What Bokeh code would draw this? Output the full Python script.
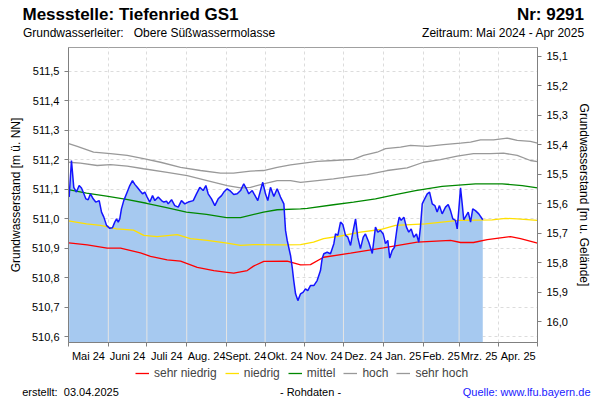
from datetime import date
import numpy as np
from bokeh.plotting import figure
from bokeh.layouts import column
from bokeh.models import (Range1d, LinearAxis, FixedTicker, CustomJSTickFormatter,
                          Label, Legend, LegendItem, AllLabels)
from bokeh.embed import file_html
from bokeh.resources import INLINE

FONT = "Liberation Sans"
START = date(2024, 5, 1)
GOK = 526.65          # Gelaendeoberkante [m ü. NN]
Y_MIN, Y_MAX = 510.58, 511.58
NB = "\u00a0"

month_labels = ["Mai 24", "Juni 24", "Juli 24", "Aug. 24", "Sept. 24", "Okt. 24",
                "Nov. 24", "Dez. 24", "Jan. 25", "Feb. 25", "Mrz. 25", "Apr. 25"]
left_ticks = [510.6, 510.7, 510.8, 510.9, 511.0, 511.1, 511.2, 511.3, 511.4, 511.5]
right_ticks = [15.1, 15.2, 15.3, 15.4, 15.5, 15.6, 15.7, 15.8, 15.9, 16.0]

# (Tag seit 01.05.2024, Wasserstand m ü. NN)
measured = [
    (0.5, 511.073), (2.3, 511.197), (4.1, 511.106), (6.2, 511.090), (8.3, 511.112),
    (10.1, 511.104), (11.4, 511.090), (13.5, 511.067), (15.3, 511.064), (17.1, 511.084),
    (19.2, 511.067), (21.2, 511.056), (23.9, 511.061), (25.7, 511.022), (27.5, 511.005),
    (29.6, 510.977), (32.1, 510.967), (34.2, 510.969), (36.0, 510.988), (37.4, 510.999),
    (38.7, 510.988), (39.9, 510.999), (41.2, 511.033), (43.0, 511.061), (45.7, 511.090),
    (47.7, 511.112), (49.8, 511.129), (51.6, 511.116), (53.5, 511.106), (55.5, 511.095),
    (57.6, 511.084), (59.4, 511.090), (61.2, 511.073), (63.3, 511.056), (65.4, 511.078),
    (67.2, 511.061), (69.8, 511.073), (72.4, 511.061), (74.2, 511.056), (76.3, 511.059),
    (77.6, 511.050), (80.2, 511.064), (82.7, 511.044), (85.4, 511.039), (87.9, 511.061),
    (90.5, 511.050), (93.2, 511.056), (97.1, 511.061), (99.6, 511.084), (102.2, 511.106),
    (104.8, 511.095), (106.9, 511.112), (108.7, 511.084), (111.3, 511.067), (113.9, 511.044),
    (116.5, 511.067), (119.1, 511.078), (120.9, 511.090), (123.5, 511.101), (126.1, 511.093),
    (128.6, 511.082), (131.3, 511.084), (133.9, 511.095), (136.4, 511.118), (138.5, 511.101),
    (140.3, 511.084), (143.0, 511.095), (145.5, 511.075), (147.3, 511.061), (149.4, 511.095),
    (151.2, 511.123), (153.3, 511.084), (155.1, 511.061), (157.2, 511.106), (159.8, 511.075),
    (162.4, 511.101), (165.0, 511.073), (167.6, 511.050), (168.9, 510.960), (170.2, 510.926),
    (172.8, 510.875), (174.1, 510.835), (175.3, 510.790), (176.7, 510.745), (178.5, 510.722),
    (180.6, 510.745), (182.7, 510.751), (184.4, 510.762), (186.2, 510.756), (188.3, 510.773),
    (190.9, 510.773), (193.5, 510.790), (196.1, 510.824), (197.4, 510.864), (198.7, 510.881),
    (201.3, 510.886), (203.9, 510.881), (206.5, 510.915), (207.8, 510.948), (209.6, 510.943),
    (211.7, 510.988), (213.5, 510.980), (215.6, 510.943), (217.4, 510.937), (219.5, 510.909),
    (221.6, 510.960), (223.4, 510.999), (225.1, 510.937), (227.2, 510.898), (229.4, 510.937),
    (231.1, 510.948), (233.7, 510.920), (236.4, 510.882), (238.9, 510.971), (240.7, 510.954),
    (242.8, 510.960), (244.9, 510.948), (246.7, 510.915), (248.5, 510.926), (250.0, 510.866),
    (251.9, 510.892), (253.7, 510.903), (255.8, 510.971), (257.4, 511.005), (258.9, 510.994),
    (261.0, 511.005), (263.0, 510.971), (264.8, 510.954), (266.7, 510.965), (268.7, 510.937),
    (270.8, 510.948), (272.6, 510.920), (273.9, 510.971), (275.3, 511.050), (276.5, 511.061),
    (279.2, 511.084), (281.0, 511.090), (283.1, 511.050), (285.1, 511.044), (286.9, 511.022),
    (288.7, 511.044), (290.8, 511.016), (293.4, 511.039), (295.5, 511.048), (297.3, 511.027),
    (299.1, 510.999), (301.2, 510.994), (302.5, 510.965), (303.7, 511.027), (305.1, 511.104),
    (306.4, 511.050), (307.6, 510.996), (309.5, 511.010), (311.1, 511.022), (312.9, 510.988),
    (314.6, 511.033), (316.7, 511.027), (319.3, 511.016), (322.4, 510.996),
]

sehr_hoch = [
    (0.2, 511.254), (6.8, 511.245), (19.5, 511.225), (32.7, 511.220), (45.7, 511.214),
    (58.4, 511.203), (71.6, 511.191), (87.2, 511.174), (102.7, 511.163), (118.3, 511.154),
    (128.4, 511.154), (141.6, 511.161), (151.8, 511.163), (162.4, 511.174), (172.8, 511.182),
    (193.6, 511.194), (206.2, 511.197), (221.8, 511.201), (229.6, 511.214), (240.2, 511.225),
    (246.7, 511.237), (258.4, 511.242), (266.2, 511.248), (279.2, 511.245), (291.8, 511.251),
    (305.1, 511.256), (312.9, 511.259), (320.6, 511.267), (330.8, 511.267), (341.4, 511.273),
    (349.2, 511.265), (359.5, 511.262), (365.0, 511.256),
]
hoch = [
    (0.2, 511.191), (9.3, 511.188), (22.3, 511.180), (32.7, 511.183), (45.7, 511.178),
    (58.4, 511.169), (76.8, 511.157), (92.4, 511.146), (107.9, 511.129), (123.5, 511.112),
    (133.9, 511.104), (141.6, 511.106), (151.8, 511.118), (162.4, 511.129), (172.8, 511.129),
    (180.6, 511.123), (193.6, 511.129), (206.2, 511.135), (221.8, 511.144), (232.5, 511.149),
    (248.0, 511.163), (263.6, 511.172), (276.3, 511.191), (289.5, 511.200), (302.5, 511.212),
    (315.2, 511.220), (328.4, 511.220), (338.5, 511.222), (349.2, 511.214), (359.5, 511.197),
    (365.0, 511.193),
]
mittel = [
    (0.0, 511.098), (14.0, 511.086), (29.6, 511.076), (45.1, 511.065), (60.7, 511.052),
    (76.3, 511.037), (91.8, 511.022), (107.4, 511.014), (123.0, 511.003), (133.9, 511.003),
    (151.8, 511.022), (162.4, 511.030), (180.6, 511.033), (185.8, 511.035), (206.2, 511.047),
    (221.8, 511.056), (238.9, 511.067), (254.5, 511.081), (270.1, 511.095), (290.8, 511.109),
    (316.7, 511.118), (337.5, 511.118), (353.1, 511.112), (365.0, 511.104),
]
niedrig = [
    (0.0, 510.992), (14.0, 510.982), (24.9, 510.977), (37.4, 510.965), (50.6, 510.961),
    (58.6, 510.943), (69.0, 510.939), (84.6, 510.946), (94.9, 510.932), (107.9, 510.926),
    (123.5, 510.917), (133.9, 510.909), (144.0, 510.912), (167.3, 510.911), (180.6, 510.912),
    (190.7, 510.920), (198.5, 510.932), (211.7, 510.941), (227.2, 510.954), (242.8, 510.963),
    (254.5, 510.977), (277.8, 510.982), (303.5, 510.994), (329.7, 510.996), (340.1, 511.001),
    (349.2, 510.999), (365.0, 510.994),
]
sehr_niedrig = [
    (0.2, 510.918), (14.6, 510.911), (30.1, 510.900), (40.5, 510.900), (56.0, 510.884),
    (63.8, 510.872), (76.8, 510.860), (87.2, 510.856), (100.2, 510.835), (113.1, 510.824),
    (123.5, 510.818), (128.6, 510.815), (139.1, 510.824), (144.0, 510.839), (152.0, 510.855),
    (170.2, 510.856), (180.6, 510.843), (188.3, 510.844), (198.5, 510.869), (219.5, 510.883),
    (245.1, 510.901), (271.4, 510.920), (297.3, 510.926), (305.1, 510.919), (315.2, 510.919),
    (325.9, 510.929), (336.2, 510.935), (344.0, 510.939), (351.8, 510.932), (365.0, 510.917),
]


def xy(series):
    return [d for d, _ in series], [v for _, v in series]


# calendar: month starts and mid-months as day offsets
month_starts = []
for i in range(13):
    y, m = 2024 + (4 + i) // 12, (4 + i) % 12 + 1
    month_starts.append((date(y, m, 1) - START).days)
mid_months = [(a + b) / 2 for a, b in zip(month_starts[:-1], month_starts[1:])]

# ---------------------------------------------------------------- main plot
p = figure(frame_width=469, frame_height=295, title=None,
           x_range=Range1d(0, month_starts[-1]), y_range=Range1d(Y_MIN, Y_MAX),
           output_backend="svg", toolbar_location=None,
           min_border_left=68, min_border_right=63, min_border_top=0, min_border_bottom=24)
p.frame_align = False
p.background_fill_color = "white"
p.border_fill_color = "white"
p.outline_line_color = "#A0A0A0"

comma = CustomJSTickFormatter(code="return tick.toFixed(1).replace('.', ',');")

ya = p.yaxis[0]
ya.ticker = FixedTicker(ticks=left_ticks)
ya.formatter = comma
ya.axis_label = "Grundwasserstand [m ü. NN]"

xa = p.xaxis[0]
xa.ticker = FixedTicker(ticks=mid_months, minor_ticks=month_starts)
xa.formatter = CustomJSTickFormatter(args=dict(labels=month_labels), code="return labels[index];")
xa.major_label_policy = AllLabels()
xa.major_tick_line_color = None
xa.major_tick_out = 0
xa.major_tick_in = 0
xa.minor_tick_in = 0
xa.minor_tick_out = 4
xa.minor_tick_line_color = "#808080"
xa.major_label_standoff = 3

p.extra_y_ranges = {"gel": Range1d(start=GOK - Y_MIN, end=GOK - Y_MAX)}
ra = LinearAxis(y_range_name="gel", ticker=FixedTicker(ticks=right_ticks), formatter=comma,
                axis_label="Grundwasserstand [m u. Gelände]")
p.add_layout(ra, "right")

for ax in (ya, ra):
    ax.major_tick_out = 4
    ax.major_tick_in = 0
    ax.minor_tick_line_color = None
    ax.major_tick_line_color = "#808080"
    ax.major_label_standoff = 5
    ax.axis_label_standoff = 6
    ax.axis_label_text_font = FONT
    ax.axis_label_text_font_size = "12px"
    ax.axis_label_text_font_style = "normal"
    ax.axis_label_text_color = "black"
for ax in (xa, ya, ra):
    ax.axis_line_color = "#808080"
    ax.major_label_text_font = FONT
    ax.major_label_text_font_size = "11px"
    ax.major_label_text_color = "black"

p.xgrid.ticker = FixedTicker(ticks=month_starts)
p.ygrid.ticker = FixedTicker(ticks=left_ticks)
for g in (p.xgrid, p.ygrid):
    g.grid_line_color = "#DCDCDC"
    g.grid_line_dash = "3 3"
    g.grid_line_width = 1

md, mv = xy(measured)
p.varea(x=md, y1=[Y_MIN] * len(md), y2=mv, fill_color="#A6C9F0")

sep_x = [s for s in month_starts if md[0] < s < md[-1]]
sep_top = list(np.interp(sep_x, md, mv))
p.segment(x0=sep_x, y0=[Y_MIN] * len(sep_x), x1=sep_x, y1=sep_top,
          line_color="#E4E4E4", line_width=1)

refs = [("sehr niedrig", sehr_niedrig, "#FF0000"),
        ("niedrig", niedrig, "#FFE000"),
        ("mittel", mittel, "#008800"),
        ("hoch", hoch, "#999999"),
        ("sehr hoch", sehr_hoch, "#999999")]
for name, ser, col in refs:
    dx, dy = xy(ser)
    p.line(dx, dy, line_color=col, line_width=1.3)

p.line(md, mv, line_color="#1414FF", line_width=1.5)


# ---------------------------------------------------------------- header / footer
def text_strip(height):
    f = figure(width=600, height=height, x_range=Range1d(0, 600), y_range=Range1d(height, 0),
               output_backend="svg", toolbar_location=None, title=None,
               x_axis_type=None, y_axis_type=None, min_border=0)
    f.frame_align = False
    f.outline_line_color = None
    f.border_fill_color = "white"
    f.background_fill_color = "white"
    return f


def lab(f, x, y, text, size, align="left", bold=False, color="black"):
    f.add_layout(Label(x=x, y=y, text=text, text_font=FONT, text_font_size=size,
                       text_align=align, text_baseline="alphabetic", text_color=color,
                       text_font_style="bold" if bold else "normal"))


head = text_strip(47)
lab(head, 22, 14, "Messstelle: Tiefenried GS1", "17px", bold=True)
lab(head, 583.5, 14, "Nr: 9291", "17px", align="right", bold=True)
lab(head, 22.5, 32.5, "Grundwasserleiter:" + NB * 3 + "Obere Süßwassermolasse", "12px")
lab(head, 584.3, 32.5, "Zeitraum: Mai 2024 - Apr 2025", "12px", align="right")

FOOT_H = 34
foot = text_strip(FOOT_H)
items = []
for name, ser, col in refs:
    dx, dy = xy(ser)   # same series; lies outside this strip's range, only the legend glyph shows
    r = foot.line(dx, dy, line_color=col, line_width=1.3)
    items.append(LegendItem(label=name, renderers=[r]))
legend = Legend(items=items, orientation="horizontal", location=(135, 20),
                label_text_font=FONT, label_text_font_size="12px",
                glyph_width=14, glyph_height=14, label_height=14, label_standoff=5,
                spacing=8, padding=0, margin=0,
                border_line_color=None, background_fill_alpha=0)
foot.add_layout(legend)
lab(foot, 21.7, 25, "erstellt:" + NB * 2 + "03.04.2025", "11px")
lab(foot, 310, 25, "- Rohdaten -", "11px", align="center")
lab(foot, 590, 25, "Quelle: www.lfu.bayern.de", "11px", align="right", color="#1A1AFF")

layout = column(head, p, foot, spacing=0)
open("out.html", "w").write(file_html(layout, INLINE))
